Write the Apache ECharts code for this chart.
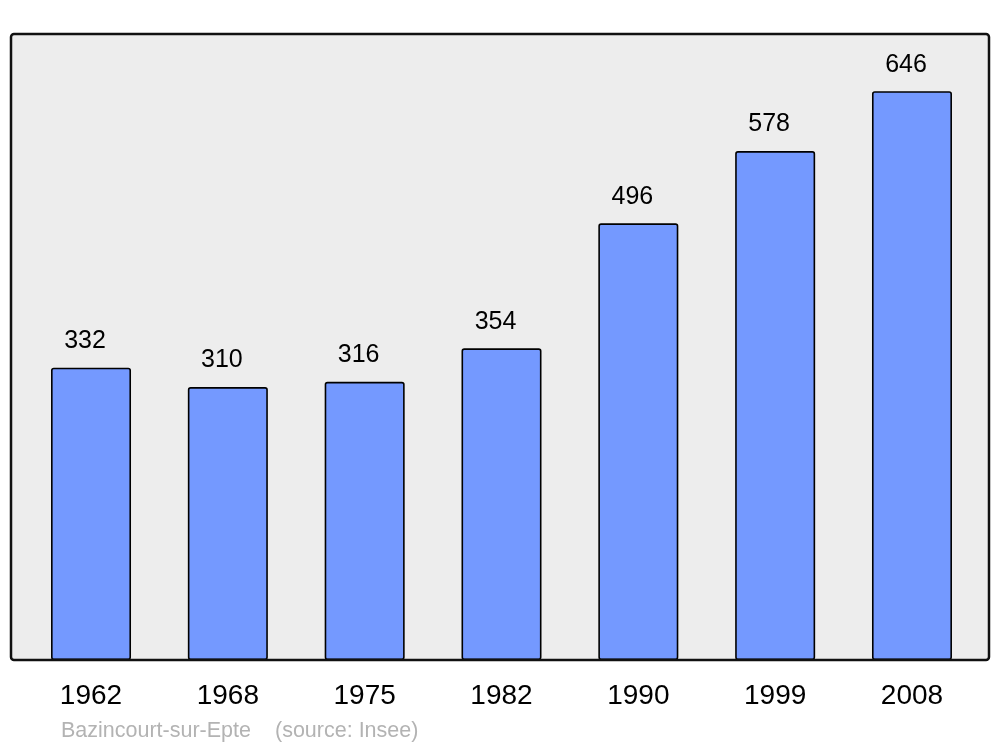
<!DOCTYPE html>
<html>
<head>
<meta charset="utf-8">
<script src="https://cdn.jsdelivr.net/npm/echarts@6/dist/echarts.min.js"></script>
<style>
html,body{margin:0;padding:0;background:#fff;}
#c{width:1000px;height:747px;}
</style>
</head>
<body>
<div id="c"></div>
<script>
const years = ['1962','1968','1975','1982','1990','1999','2008'];
const population = [332, 310, 316, 354, 496, 578, 646];
const footerPlace = 'Bazincourt-sur-Epte';
const footerSource = '(source: Insee)';

const chart = echarts.init(document.getElementById('c'), null, {renderer:'canvas'});
chart.setOption({
  animation: false,
  textStyle: {fontFamily: 'Liberation Sans, Arial, sans-serif'},
  graphic: [
    {type:'rect', z:-10, shape:{x:11, y:34, width:978, height:626, r:3},
     style:{fill:'#ededed', stroke:null}},
    {type:'rect', z:100, shape:{x:11, y:34, width:978, height:626, r:3},
     style:{fill:null, stroke:'#111', lineWidth:2.5}},
    {type:'text', left:61, top:720, z:100,
     style:{text: footerPlace, fontSize:21.5, fill:'#b3b3b3', fontFamily:'Liberation Sans, Arial, sans-serif'}},
    {type:'text', left:275, top:720, z:100,
     style:{text: footerSource, fontSize:21.5, fill:'#b3b3b3', fontFamily:'Liberation Sans, Arial, sans-serif'}}
  ],
  grid: {left:22.6, right:19.6, top:34, bottom:87},
  xAxis: {
    type:'category', data: years,
    axisLine:{show:false}, axisTick:{show:false},
    axisLabel:{fontSize:28, color:'#000', margin:22}
  },
  yAxis: {type:'value', min:0, max:711, show:false, splitLine:{show:false}},
  series: [{
    type:'bar', data: population, barWidth:80,
    itemStyle:{color:'#7499ff', borderColor:'#000', borderWidth:1.6, borderRadius:2},
    label:{show:true, position:'top', distance:14, fontSize:25, color:'#000', offset:[-6,0]}
  }]
});
</script>
</body>
</html>
